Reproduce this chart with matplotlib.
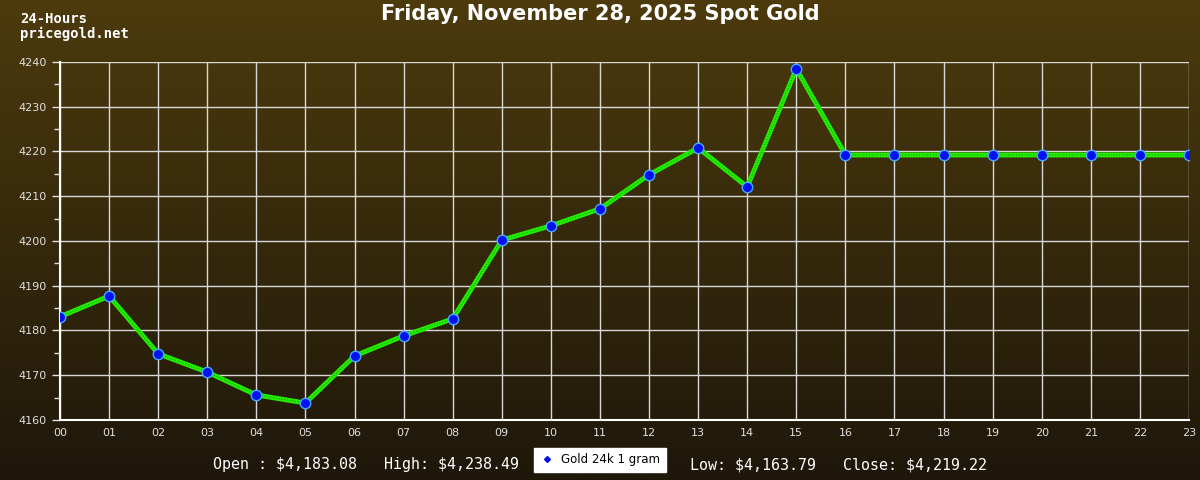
import numpy as np
import matplotlib
matplotlib.use("Agg")
import matplotlib.pyplot as plt
from matplotlib.colors import LinearSegmentedColormap
from matplotlib.lines import Line2D

hours = ["00", "01", "02", "03", "04", "05", "06", "07", "08", "09", "10", "11",
         "12", "13", "14", "15", "16", "17", "18", "19", "20", "21", "22", "23"]
prices = [4183.08, 4187.7, 4174.8, 4170.7, 4165.6, 4163.79, 4174.3, 4178.8,
          4182.6, 4200.2, 4203.4, 4207.2, 4214.8, 4220.8, 4212.1, 4238.49,
          4219.22, 4219.22, 4219.22, 4219.22, 4219.22, 4219.22, 4219.22, 4219.22]
yticks = [4160, 4170, 4180, 4190, 4200, 4210, 4220, 4230, 4240]

title = "Friday, November 28, 2025 Spot Gold"
stats_left = r"Open : \$4,183.08   High: \$4,238.49"
stats_right = r"Low: \$4,163.79   Close: \$4,219.22"
legend_label = "Gold 24k 1 gram"

fig = plt.figure(figsize=(12, 4.8), dpi=100)

# background gradient
bg = fig.add_axes([0, 0, 1, 1], zorder=-10)
cmap = LinearSegmentedColormap.from_list("bg", ["#4d3b0d", "#1e170a"])
grad = np.linspace(0, 1, 256).reshape(-1, 1)
bg.imshow(grad, aspect="auto", cmap=cmap, extent=[0, 1, 0, 1], origin="upper")
bg.axis("off")

ax = fig.add_axes([60/1200, 60/480, (1189-60)/1200, (420-62)/480])
ax.patch.set_alpha(0)
x = np.arange(len(hours))
ax.plot(x, prices, color="#22ee00", lw=3.5, zorder=3, solid_capstyle="butt")
ax.plot(x, prices, color="#0d5500", lw=1.0, ls=(0, (0.5, 1.5)), zorder=3, alpha=0.7)
ax.plot(x, prices, ls="none", marker="o", ms=7.5, mfc="#0011ee", mec="#44aaff",
        mew=1, zorder=4)

ax.set_xlim(0, 23)
ax.set_ylim(4160, 4240)
ax.set_xticks(x)
ax.set_xticklabels(hours)
ax.set_yticks(yticks)
ax.set_yticks(np.arange(4165, 4240, 10), minor=True)
ax.grid(True, color="#d8d8d8", lw=1)
ax.tick_params(axis="x", length=0, pad=6, colors="#e0e0e0", labelsize=8)
ax.tick_params(axis="y", which="major", length=6, width=1, colors="#e0e0e0", labelsize=8)
ax.tick_params(axis="y", which="minor", length=4, width=1, colors="#e0e0e0")
for s in ["top", "right"]:
    ax.spines[s].set_visible(False)
for s in ["left", "bottom"]:
    ax.spines[s].set_color("white")
    ax.spines[s].set_linewidth(1.5)

fig.text(0.5, 1 - 14/480, title, ha="center", va="center", color="white",
         fontsize=15, fontweight="bold", family="DejaVu Sans")
fig.text(20/1200, 1 - 19/480, "24-Hours", ha="left", va="center", color="white",
         fontsize=10, family="DejaVu Sans Mono", fontweight="bold")
fig.text(20/1200, 1 - 34/480, "pricegold.net", ha="left", va="center", color="white",
         fontsize=10, family="DejaVu Sans Mono", fontweight="bold")

fig.text(213/1200, 1 - 465/480, stats_left, ha="left", va="center", color="white",
         fontsize=10.8, family="DejaVu Sans Mono")
fig.text(690/1200, 1 - 465/480, stats_right, ha="left", va="center", color="white",
         fontsize=10.8, family="DejaVu Sans Mono")

handle = Line2D([], [], ls="none", marker="D", ms=3, mfc="#0011ee", mec="#0011ee")
leg = fig.legend([handle], [legend_label], loc="center", bbox_to_anchor=(600/1200, 1 - 460/480),
                 frameon=True, fancybox=False, fontsize=8.5, handlelength=1.2,
                 borderpad=0.5, handletextpad=0.6)
leg.get_frame().set_facecolor("white")
leg.get_frame().set_edgecolor("white")
leg.get_frame().set_alpha(1)

fig.savefig("out.png", dpi=100)
